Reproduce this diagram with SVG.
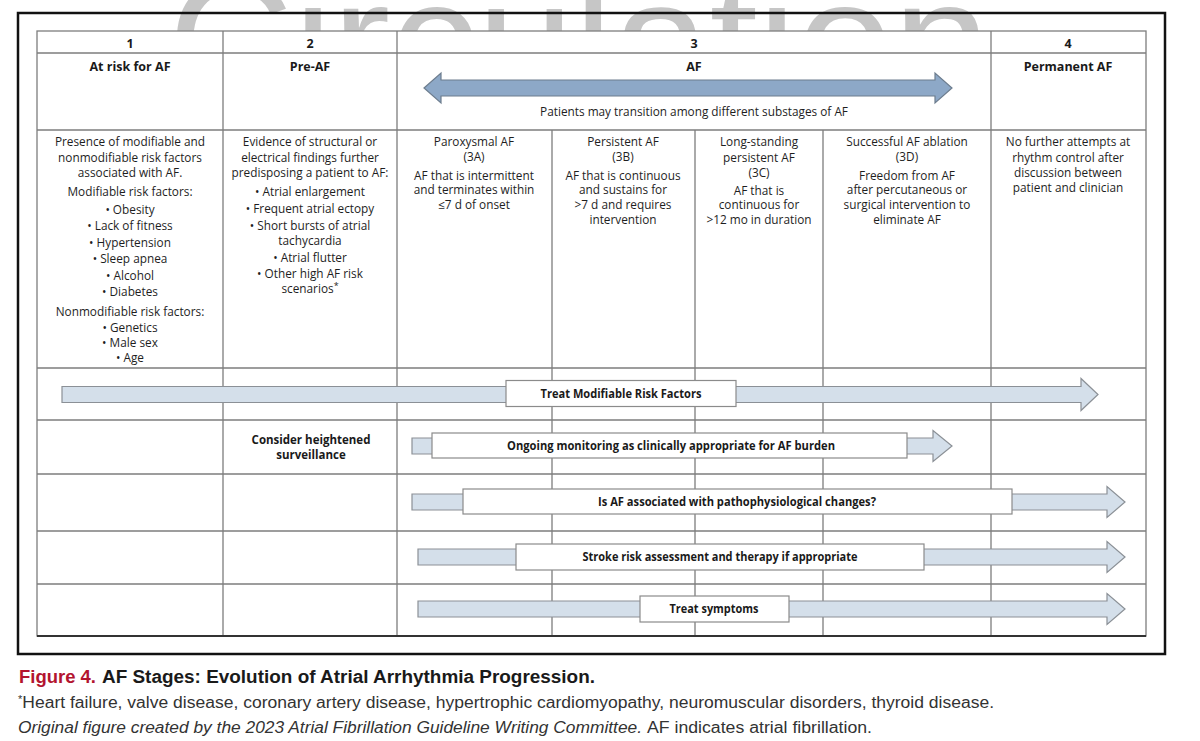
<svg xmlns="http://www.w3.org/2000/svg" width="1200" height="741" viewBox="0 0 1200 741">
<style>
.t{font-family:"Open Sans","Liberation Sans",sans-serif;font-size:11.8px;fill:#1e1e1e;text-anchor:middle}
.h{font-family:"Open Sans","Liberation Sans",sans-serif;font-size:12.5px;font-weight:bold;fill:#1a1a1a;text-anchor:middle}
.lb{font-family:"Open Sans","Liberation Sans",sans-serif;font-size:11.5px;font-weight:bold;fill:#1a1a1a;text-anchor:middle}
.grid{stroke:#7d7d7d;stroke-width:1.3;fill:none}
.arr{fill:#d4dfea;stroke:#8b9096;stroke-width:1.2}
.box{fill:#fff;stroke:#8b8b8b;stroke-width:1.2}
.cap{font-family:"Liberation Sans",Arial,sans-serif}
</style>
<defs>
<clipPath id="wm"><rect x="0" y="0" width="1200" height="31"/></clipPath>
</defs>
<rect width="1200" height="741" fill="#fff"/>
<g id="watermark" clip-path="url(#wm)">
<text x="168" y="101" font-family="Liberation Sans,Arial,sans-serif" font-size="174" fill="#c6c6c6" textLength="822" lengthAdjust="spacingAndGlyphs">Circulation</text>
</g>
<rect x="18" y="13" width="1147" height="641" fill="none" stroke="#111" stroke-width="2.5"/>
<g id="table">
<rect x="37" y="31" width="1109" height="605" fill="#fff" stroke="#7d7d7d" stroke-width="1.3"/>
<path class="grid" d="M37 53H1146M37 130H1146M37 368H1146M37 420H1146M37 474H1146M37 531H1146M37 584H1146M223 31V636M397 31V636M991 31V636M552 130V636M695 130V636M823 130V636"/>
<path d="M37 636H1146" stroke="#333" stroke-width="1.8"/>
</g>
<g id="col1">
<text class="h" x="130" y="48">1</text>
<text class="h" x="130" y="71">At risk for AF</text>
<text class="t" x="130" y="146">Presence of modifiable and</text>
<text class="t" x="130" y="162">nonmodifiable risk factors</text>
<text class="t" x="130" y="177">associated with AF.</text>
<text class="t" x="130" y="196">Modifiable risk factors:</text>
<text class="t" x="130" y="214">• Obesity</text>
<text class="t" x="130" y="230">• Lack of fitness</text>
<text class="t" x="130" y="247">• Hypertension</text>
<text class="t" x="130" y="263">• Sleep apnea</text>
<text class="t" x="130" y="280">• Alcohol</text>
<text class="t" x="130" y="296">• Diabetes</text>
<text class="t" x="130" y="316">Nonmodifiable risk factors:</text>
<text class="t" x="130" y="332">• Genetics</text>
<text class="t" x="130" y="347">• Male sex</text>
<text class="t" x="130" y="362">• Age</text>
</g>
<g id="col2">
<text class="h" x="310" y="48">2</text>
<text class="h" x="310" y="71">Pre-AF</text>
<text class="t" x="310" y="146">Evidence of structural or</text>
<text class="t" x="310" y="162">electrical findings further</text>
<text class="t" x="310" y="177">predisposing a patient to AF:</text>
<text class="t" x="310" y="196">• Atrial enlargement</text>
<text class="t" x="310" y="213">• Frequent atrial ectopy</text>
<text class="t" x="310" y="230">• Short bursts of atrial</text>
<text class="t" x="310" y="245">tachycardia</text>
<text class="t" x="310" y="262">• Atrial flutter</text>
<text class="t" x="310" y="278">• Other high AF risk</text>
<text class="t" x="310" y="293">scenarios<tspan font-size="9" dy="-4">*</tspan></text>
<text class="lb" x="311" y="444">Consider heightened</text>
<text class="lb" x="311" y="459">surveillance</text>
</g>
<g id="col3">
<text class="h" x="694" y="48">3</text>
<text class="h" x="694" y="71">AF</text>
<text class="t" x="694" y="116">Patients may transition among different substages of AF</text>
</g>
<g id="col3a">
<text class="t" x="474" y="146">Paroxysmal AF</text>
<text class="t" x="474" y="161">(3A)</text>
<text class="t" x="474" y="180">AF that is intermittent</text>
<text class="t" x="474" y="194">and terminates within</text>
<text class="t" x="474" y="209">≤7 d of onset</text>
</g>
<g id="col3b">
<text class="t" x="623" y="146">Persistent AF</text>
<text class="t" x="623" y="161">(3B)</text>
<text class="t" x="623" y="180">AF that is continuous</text>
<text class="t" x="623" y="194">and sustains for</text>
<text class="t" x="623" y="209">&gt;7 d and requires</text>
<text class="t" x="623" y="224">intervention</text>
</g>
<g id="col3c">
<text class="t" x="759" y="146">Long-standing</text>
<text class="t" x="759" y="162">persistent AF</text>
<text class="t" x="759" y="177">(3C)</text>
<text class="t" x="759" y="195">AF that is</text>
<text class="t" x="759" y="209">continuous for</text>
<text class="t" x="759" y="224">&gt;12 mo in duration</text>
</g>
<g id="col3d">
<text class="t" x="907" y="146">Successful AF ablation</text>
<text class="t" x="907" y="161">(3D)</text>
<text class="t" x="907" y="180">Freedom from AF</text>
<text class="t" x="907" y="194">after percutaneous or</text>
<text class="t" x="907" y="209">surgical intervention to</text>
<text class="t" x="907" y="224">eliminate AF</text>
</g>
<g id="col4">
<text class="h" x="1068" y="48">4</text>
<text class="h" x="1068" y="71">Permanent AF</text>
<text class="t" x="1068" y="146">No further attempts at</text>
<text class="t" x="1068" y="162">rhythm control after</text>
<text class="t" x="1068" y="177">discussion between</text>
<text class="t" x="1068" y="192">patient and clinician</text>
</g>
<g id="connectors">
<path d="M424 88L441 73V80H935V73L952 88L935 103V96H441V103Z" fill="#8da8c7" stroke="#6d7d8e" stroke-width="1.2"/>
<path class="arr" d="M62 386.5H1081V378.5L1098 394.5L1081 410.5V402.5H62Z"/>
<path class="arr" d="M412 438H933V430.5L952 446L933 461.5V454H412Z"/>
<path class="arr" d="M412 494H1107V486.5L1125 502L1107 517.5V510H412Z"/>
<path class="arr" d="M418 549H1107V541.5L1125 557L1107 572.5V565H418Z"/>
<path class="arr" d="M418 601H1107V593.5L1125 609L1107 624.5V617H418Z"/>
</g>
<g id="label-risk">
<rect class="box" x="506" y="380.5" width="230" height="26"/>
<text class="lb" x="621" y="398" textLength="161" lengthAdjust="spacingAndGlyphs">Treat Modifiable Risk Factors</text>
</g>
<g id="label-monitor">
<rect class="box" x="432" y="433" width="475" height="25"/>
<text class="lb" x="671" y="450" textLength="328" lengthAdjust="spacingAndGlyphs">Ongoing monitoring as clinically appropriate for AF burden</text>
</g>
<g id="label-patho">
<rect class="box" x="463" y="489" width="549" height="25"/>
<text class="lb" x="737" y="506" textLength="278" lengthAdjust="spacingAndGlyphs">Is AF associated with pathophysiological changes?</text>
</g>
<g id="label-stroke">
<rect class="box" x="516" y="544" width="408" height="26"/>
<text class="lb" x="720" y="561" textLength="275" lengthAdjust="spacingAndGlyphs">Stroke risk assessment and therapy if appropriate</text>
</g>
<g id="label-symptoms">
<rect class="box" x="640" y="596" width="149" height="26"/>
<text class="lb" x="714" y="613" textLength="89" lengthAdjust="spacingAndGlyphs">Treat symptoms</text>
</g>
<g id="caption">
<text class="cap" x="19" y="683" font-size="18" font-weight="bold" fill="#b3142f" textLength="77" lengthAdjust="spacingAndGlyphs">Figure 4.</text>
<text class="cap" x="102" y="683" font-size="18" font-weight="bold" fill="#1a1a1a" textLength="493" lengthAdjust="spacingAndGlyphs">AF Stages: Evolution of Atrial Arrhythmia Progression.</text>
<text class="cap" x="18" y="708" font-size="16" fill="#333" textLength="976" lengthAdjust="spacingAndGlyphs"><tspan font-size="10" dy="-5">*</tspan><tspan dy="5">Heart failure, valve disease, coronary artery disease, hypertrophic cardiomyopathy, neuromuscular disorders, thyroid disease.</tspan></text>
<text class="cap" x="18" y="733" font-size="16" font-style="italic" fill="#333" textLength="624" lengthAdjust="spacingAndGlyphs">Original figure created by the 2023 Atrial Fibrillation Guideline Writing Committee.</text>
<text class="cap" x="647" y="733" font-size="16" fill="#333" textLength="225" lengthAdjust="spacingAndGlyphs">AF indicates atrial fibrillation.</text>
</g>
</svg>
